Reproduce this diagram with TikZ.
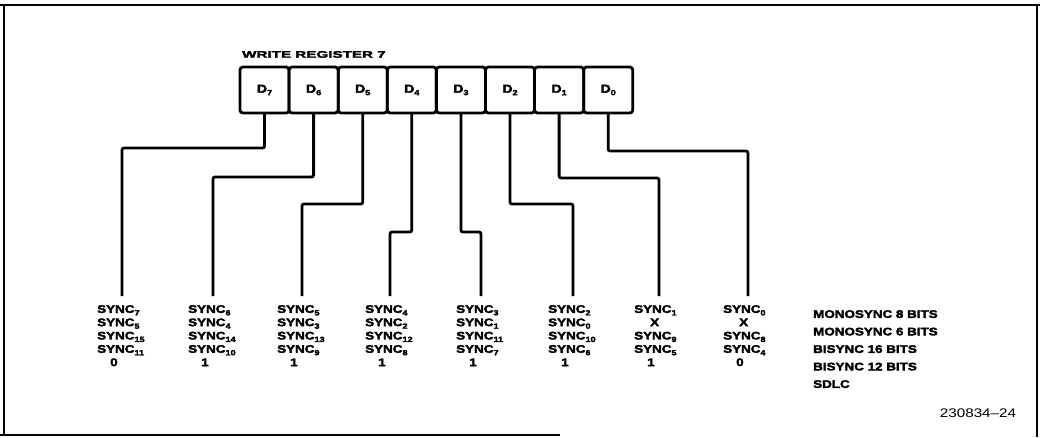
\documentclass[tikz,border=0pt]{standalone}
\usepackage{fontspec}
\setmainfont{Liberation Sans}[FakeStretch=1.22, BoldFeatures={FakeBold=3}]
\newfontfamily\titlefont{Liberation Sans}[FakeStretch=1.6, BoldFeatures={FakeBold=3}]
\usepackage{tikz}
\usetikzlibrary{positioning}

\newcommand{\sbs}[1]{\raisebox{-2.5pt}{\fontsize{7.5}{8}\selectfont #1}}

\begin{document}
\begin{tikzpicture}[x = 1pt, y = 1pt,
        regcell/.style = {draw, line width=2.8pt, rounded corners=3pt, outer sep=0pt, inner sep=0pt,
            minimum width=49.1pt, minimum height=46pt, font=\bfseries\fontsize{11.5}{12}\selectfont},
        busline/.style = {line width=2.8pt, rounded corners=2pt},
        synctext/.style = {align=left, inner sep=0pt, anchor=north west, font=\bfseries\fontsize{11}{13.3}\selectfont},
        pageframe/.style = {line width=1.8pt}]

        \useasboundingbox (0,0) rectangle (1042,-437);

        \draw[pageframe] (0,-5) -- (1040,-5);
        \draw[pageframe] (4,-5) -- (4,-435);
        \draw[pageframe] (0,-435) -- (560,-435);
        \draw[pageframe] (1037,-5) -- (1037,-437);

        \foreach \b in {0,...,7}
        \node[regcell] (d\b) at ({264.5 + 49.1*(7-\b)}, -90) {D\sbs{\b}};

        \node[anchor=south west, inner sep=0pt, font=\titlefont\bfseries\fontsize{9.5}{11}\selectfont]
            (title) at ([xshift=2pt, yshift=9pt]d7.north west) {WRITE REGISTER 7};

        \foreach \b/\lx/\ly in {7/122/148, 6/213/177, 5/302/204, 4/390/232,
                                3/481/232, 2/573/204, 1/659/178, 0/748/151}
        {
            \coordinate (e\b) at (\lx, -296);
            \draw[busline] (d\b.south) |- (\lx, -\ly) -- (e\b);
        }

        \node[synctext] (t7) at ([xshift=-25pt, yshift=-9pt]e7)
            {SYNC\sbs{7}\\SYNC\sbs{5}\\SYNC\sbs{15}\\SYNC\sbs{11}\\\hspace*{13pt}0};
        \node[synctext] (t6) at ([xshift=-25pt, yshift=-9pt]e6)
            {SYNC\sbs{6}\\SYNC\sbs{4}\\SYNC\sbs{14}\\SYNC\sbs{10}\\\hspace*{13pt}1};
        \node[synctext] (t5) at ([xshift=-25pt, yshift=-9pt]e5)
            {SYNC\sbs{5}\\SYNC\sbs{3}\\SYNC\sbs{13}\\SYNC\sbs{9}\\\hspace*{13pt}1};
        \node[synctext] (t4) at ([xshift=-25pt, yshift=-9pt]e4)
            {SYNC\sbs{4}\\SYNC\sbs{2}\\SYNC\sbs{12}\\SYNC\sbs{8}\\\hspace*{13pt}1};
        \node[synctext] (t3) at ([xshift=-25pt, yshift=-9pt]e3)
            {SYNC\sbs{3}\\SYNC\sbs{1}\\SYNC\sbs{11}\\SYNC\sbs{7}\\\hspace*{13pt}1};
        \node[synctext] (t2) at ([xshift=-25pt, yshift=-9pt]e2)
            {SYNC\sbs{2}\\SYNC\sbs{0}\\SYNC\sbs{10}\\SYNC\sbs{6}\\\hspace*{13pt}1};
        \node[synctext] (t1) at ([xshift=-25pt, yshift=-9pt]e1)
            {SYNC\sbs{1}\\\hspace*{16pt}X\\SYNC\sbs{9}\\SYNC\sbs{5}\\\hspace*{13pt}1};
        \node[synctext] (t0) at ([xshift=-25pt, yshift=-9pt]e0)
            {SYNC\sbs{0}\\\hspace*{16pt}X\\SYNC\sbs{8}\\SYNC\sbs{4}\\\hspace*{13pt}0};

        \node[synctext, font=\bfseries\fontsize{11}{17.5}\selectfont] (modes) at (813,-310)
            {MONOSYNC 8 BITS\\MONOSYNC 6 BITS\\BISYNC 16 BITS\\BISYNC 12 BITS\\SDLC};

        \node[inner sep=0pt, font=\fontsize{12.5}{14}\selectfont] (fignum) at (978,-413) {230834--24};
\end{tikzpicture}
\end{document}
